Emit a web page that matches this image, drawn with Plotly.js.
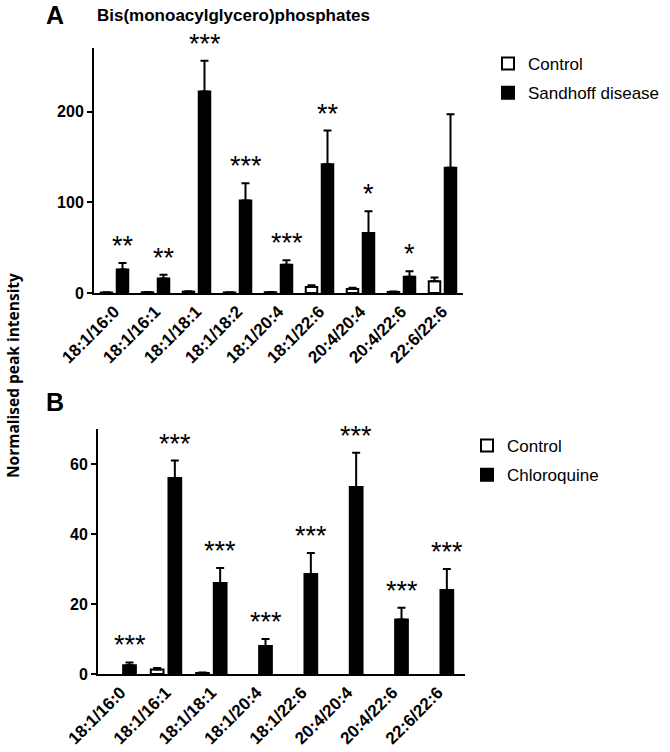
<!DOCTYPE html>
<html>
<head>
<meta charset="utf-8">
<script src="https://cdn.plot.ly/plotly-3.0.1.min.js"></script>
<style>html,body{margin:0;padding:0;background:#fff;}#chart{width:670px;height:752px;}</style>
</head>
<body>
<div id="chart"></div>
<script>
// ---- Panel A data ----
var catsA = ['18:1/16:0','18:1/16:1','18:1/18:1','18:1/18:2','18:1/20:4','18:1/22:6','20:4/20:4','20:4/22:6','22:6/22:6'];
var ctrlA = [0.5, 0.8, 1.5, 0.6, 0.8, 6.5, 4.5, 1.2, 13];
var ctrlAErr = [0.3, 0.3, 0.5, 0.3, 0.3, 2, 1.2, 0.5, 4];
var sdA = [26, 16, 222, 102, 31, 142, 66, 18, 138];
var sdAErr = [7, 4, 34, 19, 5, 37, 24, 6, 59];
var sigA = ['**','**','***','***','***','**','*','*',''];

// ---- Panel B data ----
var catsB = ['18:1/16:0','18:1/16:1','18:1/18:1','18:1/20:4','18:1/22:6','20:4/20:4','20:4/22:6','22:6/22:6'];
var ctrlB = [null, 1.3, 0.3, null, null, null, null, null];
var ctrlBErr = [0, 0.4, 0.1, 0, 0, 0, 0, 0];
var cqB = [2.5, 56, 26, 8, 28.6, 53.4, 15.6, 24];
var cqBErr = [0.8, 5, 4.3, 2, 6, 9.8, 3.3, 6];
var sigB = ['***','***','***','***','***','***','***','***'];

var FONT = 'Liberation Sans, Arial, sans-serif';

function errObj(arr){
  return {type:'data', array:arr, arrayminus:arr.map(function(){return 0;}), symmetric:false,
          color:'#000', thickness:2, width:4};
}

var traces = [
  {type:'bar', name:'Control', x:catsA, y:ctrlA, xaxis:'x', yaxis:'y', legend:'legend', legendgroup:'a1',
   marker:{color:'#fff', line:{color:'#000', width:2}}, error_y:errObj(ctrlAErr)},
  {type:'bar', name:'Sandhoff disease', x:catsA, y:sdA, xaxis:'x', yaxis:'y', legend:'legend', legendgroup:'a2',
   marker:{color:'#000', line:{color:'#000', width:2}}, error_y:errObj(sdAErr)},
  {type:'bar', name:'Control', x:catsB, y:ctrlB, xaxis:'x2', yaxis:'y2', legend:'legend2', legendgroup:'b1',
   marker:{color:'#fff', line:{color:'#000', width:2}}, error_y:errObj(ctrlBErr)},
  {type:'bar', name:'Chloroquine', x:catsB, y:cqB, xaxis:'x2', yaxis:'y2', legend:'legend2', legendgroup:'b2',
   marker:{color:'#000', line:{color:'#000', width:2}}, error_y:errObj(cqBErr)}
];

var annotations = [];
sigA.forEach(function(s,i){
  if(!s) return;
  annotations.push({xref:'x', yref:'y', x:catsA[i], y:sdA[i]+sdAErr[i], text:s, showarrow:false,
    xshift:8, yshift:0, yanchor:'bottom', font:{family:FONT, size:27, color:'#000'}});
});
sigB.forEach(function(s,i){
  if(!s) return;
  annotations.push({xref:'x2', yref:'y2', x:catsB[i], y:cqB[i]+cqBErr[i], text:s, showarrow:false,
    xshift:9, yshift:0, yanchor:'bottom', font:{family:FONT, size:27, color:'#000'}});
});
annotations.push({xref:'paper', yref:'paper', x:44/670, y:1-15/752, xanchor:'left', yanchor:'middle',
  text:'<b>A</b>', showarrow:false, font:{family:FONT, size:25, color:'#000'}});
annotations.push({xref:'paper', yref:'paper', x:95/670, y:1-15/752, xanchor:'left', yanchor:'middle',
  text:'<b>Bis(monoacylglycero)phosphates</b>', showarrow:false, font:{family:FONT, size:17, color:'#000'}});
annotations.push({xref:'paper', yref:'paper', x:44/670, y:1-402/752, xanchor:'left', yanchor:'middle',
  text:'<b>B</b>', showarrow:false, font:{family:FONT, size:25, color:'#000'}});
annotations.push({xref:'paper', yref:'paper', x:13/670, y:1-376/752, xanchor:'center', yanchor:'middle',
  text:'<b>Normalised peak intensity</b>', textangle:-90, showarrow:false, font:{family:'Open Sans, sans-serif', size:15.5, color:'#000'}});

function yax(domain, range, tickvals){
  return {domain:domain, range:range, tickvals:tickvals, showline:true, linecolor:'#000', linewidth:2,
    ticks:'outside', ticklen:5, tickwidth:2, tickcolor:'#000', showgrid:false, zeroline:false,
    tickfont:{family:FONT, size:16, color:'#000', weight:'bold'}, fixedrange:true};
}
function xax(domain, anchor){
  return {domain:domain, anchor:anchor, showline:true, linecolor:'#000', linewidth:2, ticks:'',
    tickangle:-45, showgrid:false, zeroline:false,
    tickfont:{family:FONT, size:17, color:'#000', weight:'bold'}, fixedrange:true};
}

var layout = {
  width:670, height:752, margin:{l:0, r:0, t:0, b:0},
  paper_bgcolor:'#fff', plot_bgcolor:'#fff',
  barmode:'group', bargap:0.22, bargroupgap:0.28,
  showlegend:true,
  xaxis: xax([94/670, 463/670], 'y'),
  yaxis: yax([1-293/752, 1-48/752], [0, 270], [0,100,200]),
  xaxis2: xax([98/670, 465/670], 'y2'),
  yaxis2: Object.assign(yax([1-674/752, 1-429/752], [0, 70], [0,20,40,60]), {anchor:'x2'}),
  legend:{x:488/670, y:1-46/752, xanchor:'left', yanchor:'top', bgcolor:'rgba(0,0,0,0)',
    font:{family:FONT, size:17, color:'#000'}, tracegroupgap:4},
  legend2:{x:467/670, y:1-428/752, xanchor:'left', yanchor:'top', bgcolor:'rgba(0,0,0,0)',
    font:{family:FONT, size:17, color:'#000'}, tracegroupgap:4},
  annotations:annotations
};
layout.yaxis.anchor = 'x';

Plotly.newPlot('chart', traces, layout, {displayModeBar:false, staticPlot:true});
</script>
</body>
</html>
